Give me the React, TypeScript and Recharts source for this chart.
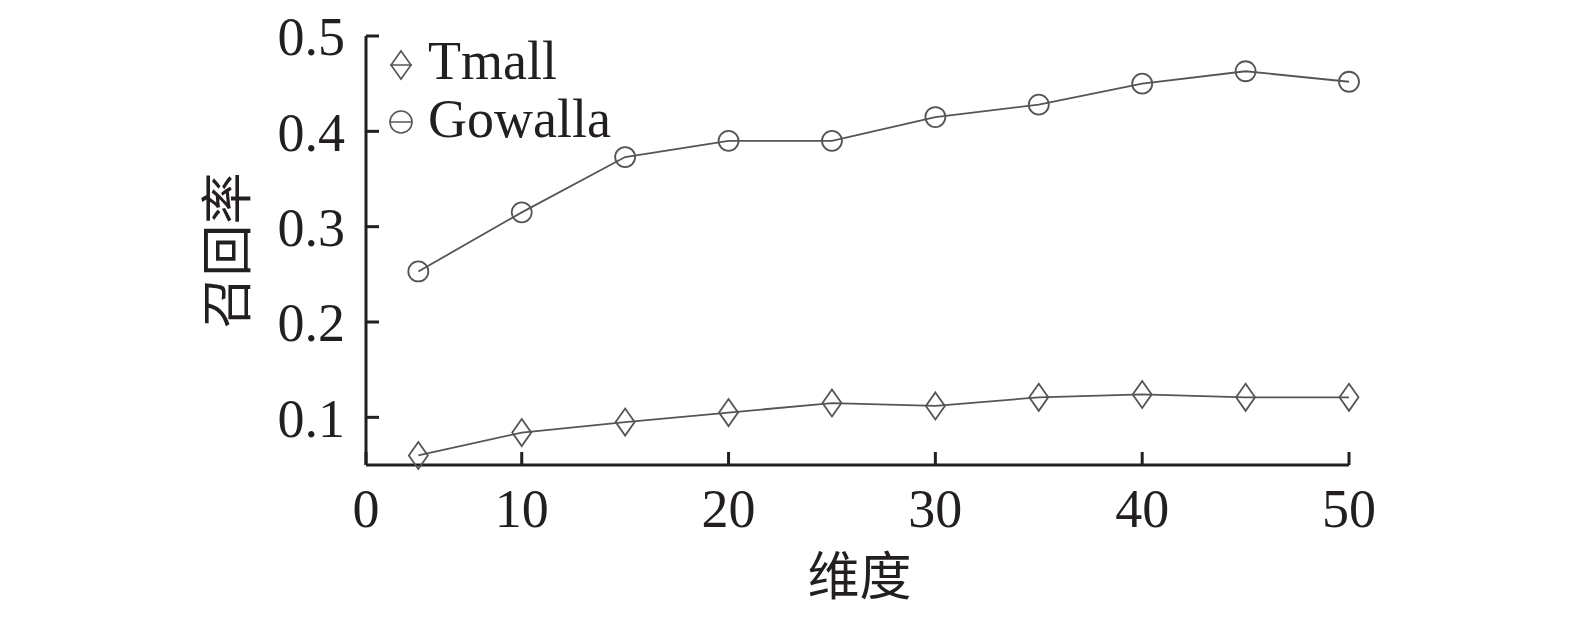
import React from 'react';
import { LineChart, Line, XAxis, YAxis, Legend, Label } from 'recharts';

const dims = [5, 10, 15, 20, 25, 30, 35, 40, 45, 50];
const tmall = [0.06, 0.084, 0.095, 0.105, 0.115, 0.112, 0.121, 0.124, 0.121, 0.121];
const gowalla = [0.253, 0.315, 0.373, 0.39, 0.39, 0.415, 0.428, 0.45, 0.463, 0.452];
const xTicks = [2.47, 10, 20, 30, 40, 50];
const yTicks = [0.1, 0.2, 0.3, 0.4, 0.5];

const data = dims.map((d, i) => ({ dim: d, Tmall: tmall[i], Gowalla: gowalla[i] }));

const SERIF = "'Liberation Serif', 'Times New Roman', serif";
const CJK = "'Noto Sans CJK SC', sans-serif";
const INK = '#231f20';
const LINE = '#555555';

const Diamond = (props: any) => {
  const { cx, cy, index } = props;
  if (cx == null || cy == null) return null;
  return (
    <path
      key={`d-${index}`}
      d={`M${cx},${cy - 13.5}L${cx + 9.5},${cy}L${cx},${cy + 13.5}L${cx - 9.5},${cy}Z`}
      fill="none"
      stroke={LINE}
      strokeWidth={1.8}
    />
  );
};

const Circle = (props: any) => {
  const { cx, cy, index } = props;
  if (cx == null || cy == null) return null;
  return <circle key={`c-${index}`} cx={cx} cy={cy} r={10} fill="none" stroke={LINE} strokeWidth={1.8} />;
};

const renderLegend = () => (
  <div style={{ fontFamily: SERIF, fontSize: 54, color: INK, lineHeight: '58px' }}>
    {['Tmall', 'Gowalla'].map((name) => (
      <div key={name} style={{ display: 'flex', alignItems: 'center' }}>
        <svg width={26} height={32} style={{ marginRight: 14, position: 'relative', top: name === 'Tmall' ? 4 : 3 }}>
          <line x1={2} y1={16} x2={24} y2={16} stroke={LINE} strokeWidth={1.5} />
          {name === 'Tmall' ? (
            <path d="M13,2L23,16L13,30L3,16Z" fill="none" stroke={LINE} strokeWidth={1.6} />
          ) : (
            <circle cx={13} cy={16} r={11} fill="none" stroke={LINE} strokeWidth={1.6} />
          )}
        </svg>
        <span>{name}</span>
      </div>
    ))}
  </div>
);

export default function App() {
  return (
    <div style={{ position: 'absolute', left: 0, top: 0, background: '#fff' }}>
      <LineChart
        width={1575}
        height={617}
        data={data}
        margin={{ top: 36, right: 226, bottom: 0, left: 0 }}
      >
        <XAxis
          dataKey="dim"
          type="number"
          domain={[2.47, 50]}
          ticks={xTicks}
          tickFormatter={(v: number) => (v < 5 ? '0' : String(v))}
          height={152}
          stroke={INK}
          axisLine={{ stroke: INK, strokeWidth: 3 }}
          tickLine={{ stroke: INK, strokeWidth: 3 }}
          tickSize={-13}
          tickMargin={37}
          tick={{ fill: INK, fontFamily: SERIF, fontSize: 54 }}
        >
          <Label value="维度" position="center" dx={2} dy={36} style={{ fill: INK, fontFamily: CJK, fontSize: 52 }} />
        </XAxis>
        <YAxis
          type="number"
          domain={[0.05, 0.5]}
          ticks={yTicks}
          tickFormatter={(v: number) => v.toFixed(1)}
          width={366}
          stroke={INK}
          axisLine={{ stroke: INK, strokeWidth: 3 }}
          tickLine={{ stroke: INK, strokeWidth: 3 }}
          tickSize={-13}
          tickMargin={34}
          tick={{ fill: INK, fontFamily: SERIF, fontSize: 54 }}
        >
          <Label value="召回率" position="center" angle={-90} dx={45} style={{ fill: INK, fontFamily: CJK, fontSize: 52 }} />
        </YAxis>
        <Legend
          content={renderLegend}
          layout="vertical"
          align="center"
          verticalAlign="middle"
          wrapperStyle={{ left: 388, top: 32, width: 'auto', height: 'auto' }}
        />
        <Line dataKey="Tmall" stroke={LINE} strokeWidth={1.8} dot={Diamond} isAnimationActive={false} />
        <Line dataKey="Gowalla" stroke={LINE} strokeWidth={1.8} dot={Circle} isAnimationActive={false} />
      </LineChart>
    </div>
  );
}
